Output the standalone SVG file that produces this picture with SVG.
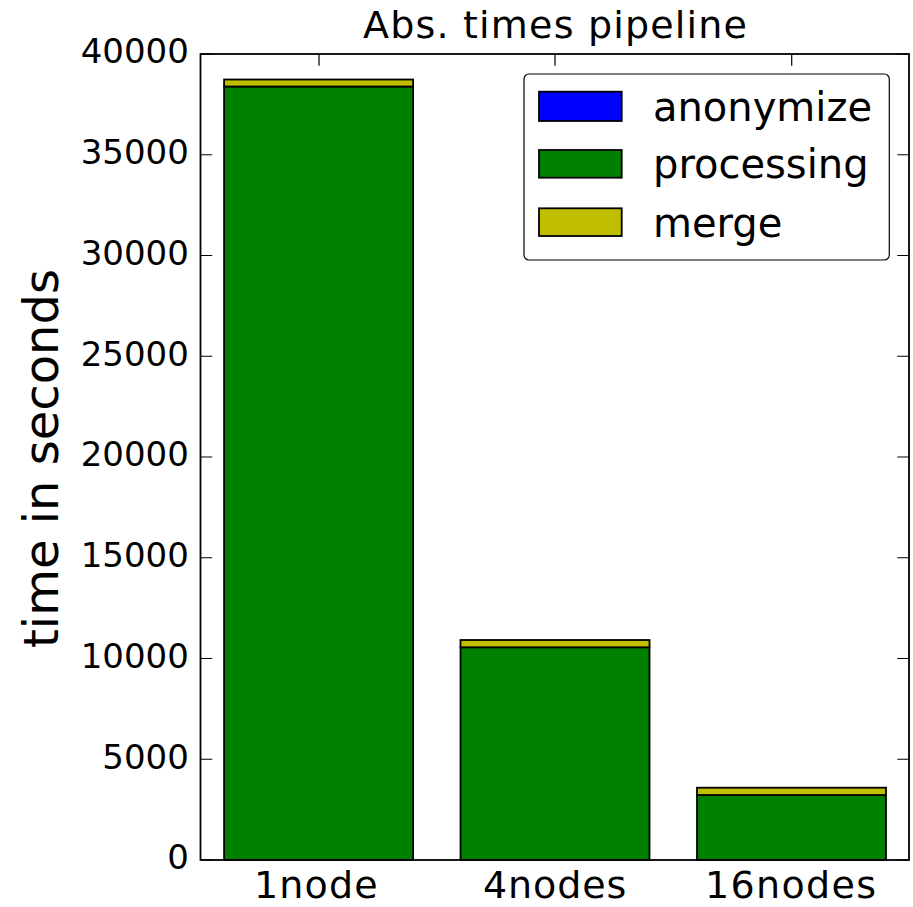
<svg xmlns="http://www.w3.org/2000/svg" width="913" height="907" viewBox="0 0 913 907">
<style>
text{font-family:"DejaVu Sans","Liberation Sans",sans-serif;fill:#000}
.tick{font-size:34px;text-anchor:end}
.xl{font-size:38px}
.leg{font-size:40px}
.bar{stroke:#000;stroke-width:1.8}
.proc{fill:#008000}
.merge{fill:#bfbf00}
.anon{fill:#0000ff}
.spine{fill:none;stroke:#000;stroke-width:1.8}
.tk{stroke:#000;stroke-width:1.2}
</style>
<rect width="913" height="907" fill="#fff"/>
<g id="bars">
  <g id="bar-1node">
    <rect class="bar proc" x="224.1" y="86.5" width="189" height="773.5"/>
    <rect class="bar merge" x="224.1" y="79.5" width="189" height="7"/>
  </g>
  <g id="bar-4nodes">
    <rect class="bar proc" x="460.5" y="647.3" width="189" height="212.7"/>
    <rect class="bar merge" x="460.5" y="640" width="189" height="7.3"/>
  </g>
  <g id="bar-16nodes">
    <rect class="bar proc" x="697" y="795" width="189" height="65"/>
    <rect class="bar merge" x="697" y="787.7" width="189" height="7.3"/>
  </g>
</g>
<g id="axes">
  <rect class="spine" x="200.5" y="54" width="708.5" height="806"/>
  <g id="ticks">
    <path class="tk" d="M200.5 860h11.7M200.5 759.25h11.7M200.5 658.5h11.7M200.5 557.75h11.7M200.5 457h11.7M200.5 356.25h11.7M200.5 255.5h11.7M200.5 154.75h11.7M200.5 54h11.7"/>
    <path class="tk" d="M909 860h-11.7M909 759.25h-11.7M909 658.5h-11.7M909 557.75h-11.7M909 457h-11.7M909 356.25h-11.7M909 255.5h-11.7M909 154.75h-11.7M909 54h-11.7"/>
    <path class="tk" d="M319 54v11.7M555 54v11.7M791.7 54v11.7"/>
  </g>
  <g id="ytick-labels">
    <text class="tick" x="188.8" y="869.3">0</text>
    <text class="tick" x="188.8" y="768.5">5000</text>
    <text class="tick" x="188.8" y="667.8">10000</text>
    <text class="tick" x="188.8" y="567">15000</text>
    <text class="tick" x="188.8" y="466.3">20000</text>
    <text class="tick" x="188.8" y="365.5">25000</text>
    <text class="tick" x="188.8" y="264.8">30000</text>
    <text class="tick" x="188.8" y="164">35000</text>
    <text class="tick" x="188.8" y="63.3">40000</text>
  </g>
  <g id="xtick-labels">
    <text class="xl" x="254" y="898.3" textLength="123.6" lengthAdjust="spacing">1node</text>
    <text class="xl" x="483" y="898.3" textLength="143.3" lengthAdjust="spacing">4nodes</text>
    <text class="xl" x="705" y="898.3" textLength="171" lengthAdjust="spacing">16nodes</text>
  </g>
  <text id="ylabel" font-size="48" text-anchor="middle" transform="translate(58.3 458.5) rotate(-90)">time in seconds</text>
  <text id="title" font-size="38" x="363" y="37.7" textLength="384" lengthAdjust="spacing">Abs. times pipeline</text>
</g>
<g id="legend">
  <rect x="524" y="74" width="365.3" height="186" rx="5" fill="#fff" stroke="#000" stroke-width="1.2"/>
  <g id="legend-anonymize">
    <rect class="bar anon" x="539" y="91.7" width="82.7" height="29.3"/>
    <text class="leg" x="653" y="120.7">anonymize</text>
  </g>
  <g id="legend-processing">
    <rect class="bar proc" x="539" y="150" width="82.7" height="27.7"/>
    <text class="leg" x="653" y="177.5">processing</text>
  </g>
  <g id="legend-merge">
    <rect class="bar merge" x="539" y="208.3" width="82.7" height="27.7"/>
    <text class="leg" x="653" y="236.8">merge</text>
  </g>
</g>
</svg>
